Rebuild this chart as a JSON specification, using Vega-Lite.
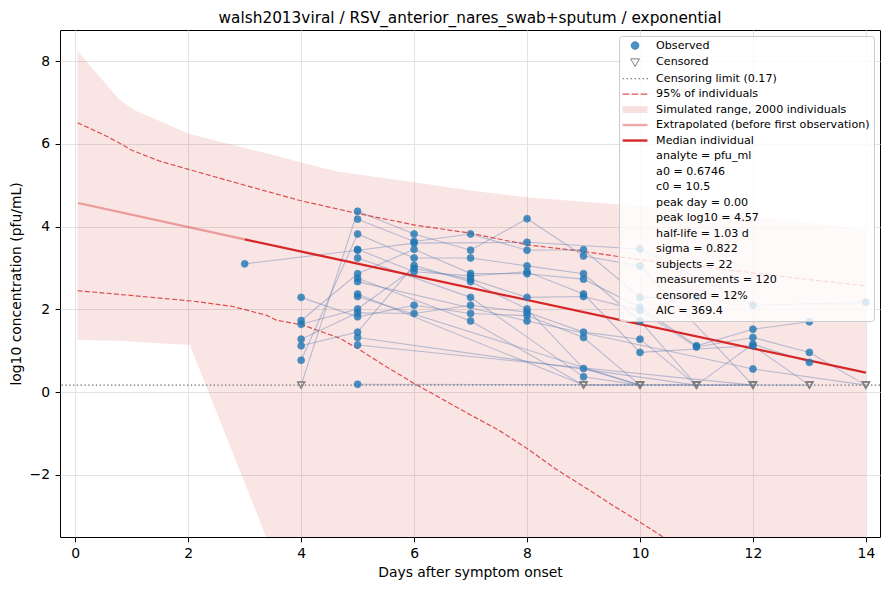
{
  "$schema": "https://vega.github.io/schema/vega-lite/v6.json",
  "width": 820,
  "height": 507,
  "autosize": {"type": "none"},
  "padding": {"left": 60, "top": 30, "right": 9, "bottom": 53},
  "title": {"text": "walsh2013viral / RSV_anterior_nares_swab+sputum / exponential", "fontSize": 15.3, "fontWeight": "normal", "font": "DejaVu Sans", "color": "black", "frame": "group", "offset": 4},
  "config": {
    "font": "DejaVu Sans",
    "view": {"stroke": "black", "strokeWidth": 1},
    "axis": {"domain": false, "tickColor": "black", "tickSize": 4.9, "tickWidth": 1, "labelFontSize": 13.9, "titleFontSize": 13.9, "titleFontWeight": "normal", "labelColor": "black", "titleColor": "black", "gridColor": "#e3e3e3", "gridWidth": 1, "labelFont": "DejaVu Sans", "titleFont": "DejaVu Sans"},
    "legend": {"labelFont": "DejaVu Sans"}
  },
  "datasets": {
    "obs": [
      {"s": "S1", "x": 3, "y": 3.10, "c": 0}, {"s": "S1", "x": 5, "y": 3.43, "c": 0}, {"s": "S1", "x": 6, "y": 3.60, "c": 0}, {"s": "S1", "x": 8, "y": 3.62, "c": 0}, {"s": "S1", "x": 10, "y": 3.46, "c": 0}, {"s": "S1", "x": 12, "y": 2.10, "c": 0}, {"s": "S1", "x": 14, "y": 2.17, "c": 0},
      {"s": "S2", "x": 4, "y": 0.17, "c": 1}, {"s": "S2", "x": 5, "y": 4.37, "c": 0}, {"s": "S2", "x": 6, "y": 3.82, "c": 0}, {"s": "S2", "x": 7, "y": 3.43, "c": 0}, {"s": "S2", "x": 8, "y": 4.19, "c": 0}, {"s": "S2", "x": 9, "y": 3.29, "c": 0}, {"s": "S2", "x": 10, "y": 3.05, "c": 0}, {"s": "S2", "x": 12, "y": 0.17, "c": 1},
      {"s": "S3", "x": 5, "y": 4.18, "c": 0}, {"s": "S3", "x": 6, "y": 3.64, "c": 0}, {"s": "S3", "x": 7, "y": 3.82, "c": 0}, {"s": "S3", "x": 8, "y": 3.43, "c": 0}, {"s": "S3", "x": 9, "y": 3.44, "c": 0}, {"s": "S3", "x": 10, "y": 2.29, "c": 0}, {"s": "S3", "x": 11, "y": 2.29, "c": 0},
      {"s": "S4", "x": 4, "y": 2.29, "c": 0}, {"s": "S4", "x": 5, "y": 1.82, "c": 0}, {"s": "S4", "x": 6, "y": 2.10, "c": 0}, {"s": "S4", "x": 7, "y": 1.90, "c": 0}, {"s": "S4", "x": 8, "y": 1.85, "c": 0}, {"s": "S4", "x": 9, "y": 1.32, "c": 0}, {"s": "S4", "x": 10, "y": 0.17, "c": 1},
      {"s": "S5", "x": 4, "y": 1.73, "c": 0}, {"s": "S5", "x": 5, "y": 2.86, "c": 0}, {"s": "S5", "x": 6, "y": 3.45, "c": 0}, {"s": "S5", "x": 7, "y": 2.87, "c": 0}, {"s": "S5", "x": 8, "y": 2.86, "c": 0}, {"s": "S5", "x": 9, "y": 2.73, "c": 0}, {"s": "S5", "x": 10, "y": 2.05, "c": 0}, {"s": "S5", "x": 11, "y": 1.12, "c": 0}, {"s": "S5", "x": 12, "y": 1.52, "c": 0}, {"s": "S5", "x": 13, "y": 1.70, "c": 0},
      {"s": "S6", "x": 4, "y": 1.64, "c": 0}, {"s": "S6", "x": 5, "y": 2.01, "c": 0}, {"s": "S6", "x": 6, "y": 2.99, "c": 0}, {"s": "S6", "x": 7, "y": 2.73, "c": 0}, {"s": "S6", "x": 8, "y": 2.29, "c": 0}, {"s": "S6", "x": 9, "y": 2.31, "c": 0}, {"s": "S6", "x": 10, "y": 1.97, "c": 0}, {"s": "S6", "x": 11, "y": 1.09, "c": 0}, {"s": "S6", "x": 12, "y": 1.32, "c": 0}, {"s": "S6", "x": 13, "y": 0.96, "c": 0}, {"s": "S6", "x": 14, "y": 0.17, "c": 1},
      {"s": "S7", "x": 4, "y": 1.28, "c": 0}, {"s": "S7", "x": 5, "y": 1.92, "c": 0}, {"s": "S7", "x": 6, "y": 1.90, "c": 0}, {"s": "S7", "x": 7, "y": 2.10, "c": 0}, {"s": "S7", "x": 8, "y": 1.93, "c": 0}, {"s": "S7", "x": 9, "y": 1.45, "c": 0}, {"s": "S7", "x": 10, "y": 1.28, "c": 0}, {"s": "S7", "x": 11, "y": 0.17, "c": 1},
      {"s": "S8", "x": 4, "y": 1.12, "c": 0}, {"s": "S8", "x": 5, "y": 1.45, "c": 0}, {"s": "S8", "x": 6, "y": 3.06, "c": 0}, {"s": "S8", "x": 7, "y": 2.67, "c": 0}, {"s": "S8", "x": 8, "y": 2.01, "c": 0}, {"s": "S8", "x": 9, "y": 0.57, "c": 0}, {"s": "S8", "x": 10, "y": 0.17, "c": 1},
      {"s": "S9", "x": 4, "y": 0.77, "c": 0}, {"s": "S9", "x": 5, "y": 3.82, "c": 0}, {"s": "S9", "x": 6, "y": 3.24, "c": 0}, {"s": "S9", "x": 7, "y": 3.24, "c": 0}, {"s": "S9", "x": 8, "y": 3.05, "c": 0}, {"s": "S9", "x": 9, "y": 2.86, "c": 0}, {"s": "S9", "x": 10, "y": 1.72, "c": 0}, {"s": "S9", "x": 11, "y": 0.17, "c": 1}, {"s": "S9", "x": 12, "y": 1.16, "c": 0}, {"s": "S9", "x": 13, "y": 0.72, "c": 0},
      {"s": "S10", "x": 5, "y": 3.45, "c": 0}, {"s": "S10", "x": 6, "y": 2.91, "c": 0}, {"s": "S10", "x": 7, "y": 2.81, "c": 0}, {"s": "S10", "x": 8, "y": 2.91, "c": 0}, {"s": "S10", "x": 9, "y": 2.37, "c": 0}, {"s": "S10", "x": 10, "y": 0.96, "c": 0}, {"s": "S10", "x": 12, "y": 1.12, "c": 0}, {"s": "S10", "x": 13, "y": 0.17, "c": 1},
      {"s": "S11", "x": 5, "y": 3.24, "c": 0}, {"s": "S11", "x": 7, "y": 2.29, "c": 0}, {"s": "S11", "x": 9, "y": 0.37, "c": 0}, {"s": "S11", "x": 10, "y": 0.17, "c": 1},
      {"s": "S12", "x": 5, "y": 2.75, "c": 0}, {"s": "S12", "x": 7, "y": 1.72, "c": 0}, {"s": "S12", "x": 9, "y": 0.17, "c": 1}, {"s": "S12", "x": 11, "y": 0.17, "c": 1},
      {"s": "S13", "x": 5, "y": 2.67, "c": 0}, {"s": "S13", "x": 8, "y": 1.72, "c": 0}, {"s": "S13", "x": 12, "y": 0.56, "c": 0}, {"s": "S13", "x": 14, "y": 0.17, "c": 1},
      {"s": "S14", "x": 5, "y": 2.37, "c": 0}, {"s": "S14", "x": 9, "y": 0.17, "c": 1},
      {"s": "S15", "x": 5, "y": 2.31, "c": 0}, {"s": "S15", "x": 10, "y": 0.17, "c": 1},
      {"s": "S16", "x": 5, "y": 1.32, "c": 0}, {"s": "S16", "x": 11, "y": 0.17, "c": 1}, {"s": "S16", "x": 12, "y": 0.17, "c": 1},
      {"s": "S17", "x": 5, "y": 1.14, "c": 0}, {"s": "S17", "x": 12, "y": 0.17, "c": 1},
      {"s": "S18", "x": 5, "y": 0.19, "c": 0}, {"s": "S18", "x": 13, "y": 0.17, "c": 1}
    ],
    "band": [
      {"x": 0.04, "y": 8.24, "lo": 1.26}, {"x": 0.78, "y": 7.07, "lo": 1.24}, {"x": 1.05, "y": 6.81, "lo": 1.22}, {"x": 2.03, "y": 6.24, "lo": 1.14},
      {"x": 3.38, "y": 5.77, "lo": -3.5}, {"x": 3.6, "y": 5.7, "lo": -4.3}, {"x": 4.0, "y": 5.55, "lo": -5.0}, {"x": 4.63, "y": 5.33, "lo": -5.0},
      {"x": 5.04, "y": 5.25, "lo": -5.0}, {"x": 6, "y": 5.07, "lo": -5.0}, {"x": 7, "y": 4.87, "lo": -5.0}, {"x": 8, "y": 4.71, "lo": -5.0},
      {"x": 9, "y": 4.6, "lo": -5.0}, {"x": 10, "y": 4.5, "lo": -5.0}, {"x": 11, "y": 4.38, "lo": -5.0}, {"x": 12, "y": 4.25, "lo": -5.0},
      {"x": 13, "y": 4.1, "lo": -5.0}, {"x": 14, "y": 3.92, "lo": -5.0}
    ],
    "pi": [
      {"b": "hi", "x": 0.04, "y": 6.51}, {"b": "hi", "x": 0.5, "y": 6.22}, {"b": "hi", "x": 0.78, "y": 6.02}, {"b": "hi", "x": 1.01, "y": 5.84}, {"b": "hi", "x": 1.5, "y": 5.58}, {"b": "hi", "x": 2.14, "y": 5.33}, {"b": "hi", "x": 3, "y": 5.0}, {"b": "hi", "x": 3.98, "y": 4.63}, {"b": "hi", "x": 4.92, "y": 4.34}, {"b": "hi", "x": 6, "y": 4.04}, {"b": "hi", "x": 7, "y": 3.84}, {"b": "hi", "x": 8, "y": 3.56}, {"b": "hi", "x": 9, "y": 3.4}, {"b": "hi", "x": 10, "y": 3.2}, {"b": "hi", "x": 11, "y": 3.05}, {"b": "hi", "x": 12, "y": 2.88}, {"b": "hi", "x": 13, "y": 2.72}, {"b": "hi", "x": 14, "y": 2.57},
      {"b": "lo", "x": 0.04, "y": 2.45}, {"b": "lo", "x": 0.8, "y": 2.36}, {"b": "lo", "x": 1.67, "y": 2.25}, {"b": "lo", "x": 2.08, "y": 2.2}, {"b": "lo", "x": 2.79, "y": 2.07}, {"b": "lo", "x": 3.38, "y": 1.86}, {"b": "lo", "x": 3.56, "y": 1.74}, {"b": "lo", "x": 4.03, "y": 1.62}, {"b": "lo", "x": 4.69, "y": 1.3}, {"b": "lo", "x": 5.04, "y": 1.02}, {"b": "lo", "x": 5.5, "y": 0.62}, {"b": "lo", "x": 6.0, "y": 0.21}, {"b": "lo", "x": 6.5, "y": -0.17}, {"b": "lo", "x": 7.0, "y": -0.55}, {"b": "lo", "x": 7.5, "y": -0.92}, {"b": "lo", "x": 8.0, "y": -1.36}, {"b": "lo", "x": 8.5, "y": -1.85}, {"b": "lo", "x": 9.0, "y": -2.28}, {"b": "lo", "x": 9.5, "y": -2.72}, {"b": "lo", "x": 10.0, "y": -3.14}, {"b": "lo", "x": 10.5, "y": -3.58}, {"b": "lo", "x": 11.0, "y": -4.0}
    ],
    "med": [
      {"part": "extrap", "x": 0.05, "y": 4.57}, {"part": "extrap", "x": 3.0, "y": 3.69},
      {"part": "median", "x": 3.0, "y": 3.69}, {"part": "median", "x": 14.0, "y": 0.47}
    ],
    "leg": [{"k": "Observed"}]
  },
  "layer": [
    {
      "data": {"name": "band"},
      "mark": {"type": "area", "color": "#d62728", "opacity": 0.12, "clip": true},
      "encoding": {
        "x": {"field": "x", "type": "quantitative", "scale": {"domain": [-0.27, 14.25], "nice": false, "zero": false}, "axis": {"values": [0, 2, 4, 6, 8, 10, 12, 14], "format": "d", "title": "Days after symptom onset", "labelBaseline": "alphabetic", "labelPadding": 15.5, "titleBaseline": "alphabetic", "titleY": 39.5}},
        "y": {"field": "y", "type": "quantitative", "scale": {"domain": [-3.5, 8.75], "nice": false, "zero": false}, "axis": {"values": [-2, 0, 2, 4, 6, 8], "format": "d", "title": "log10 concentration (pfu/mL)", "labelPadding": 5.5, "titleBaseline": "alphabetic", "titleX": -39.8}},
        "y2": {"field": "lo"}
      }
    },
    {
      "data": {"name": "pi"},
      "mark": {"type": "line", "color": "#d62728", "opacity": 0.8, "strokeWidth": 1.2, "strokeDash": [5, 2.3], "clip": true},
      "encoding": {
        "x": {"field": "x", "type": "quantitative", "scale": {"domain": [-0.27, 14.25], "nice": false, "zero": false}},
        "y": {"field": "y", "type": "quantitative", "scale": {"domain": [-3.5, 8.75], "nice": false, "zero": false}},
        "detail": {"field": "b"}
      }
    },
    {
      "data": {"values": [{"y": 0.17}]},
      "mark": {"type": "rule", "color": "#707070", "strokeWidth": 1.4, "strokeDash": [1.4, 2.4]},
      "encoding": {
        "y": {"field": "y", "type": "quantitative", "scale": {"domain": [-3.5, 8.75], "nice": false, "zero": false}}
      }
    },
    {
      "data": {"name": "obs"},
      "mark": {"type": "line", "color": "#5b7fb0", "opacity": 0.42, "strokeWidth": 1.1},
      "encoding": {
        "x": {"field": "x", "type": "quantitative", "scale": {"domain": [-0.27, 14.25], "nice": false, "zero": false}},
        "y": {"field": "y", "type": "quantitative", "scale": {"domain": [-3.5, 8.75], "nice": false, "zero": false}},
        "detail": {"field": "s"},
        "order": {"field": "x", "type": "quantitative"}
      }
    },
    {
      "data": {"name": "med"},
      "transform": [{"filter": "datum.part == 'extrap'"}],
      "mark": {"type": "line", "color": "#d62728", "opacity": 0.4, "strokeWidth": 2.3},
      "encoding": {
        "x": {"field": "x", "type": "quantitative", "scale": {"domain": [-0.27, 14.25], "nice": false, "zero": false}},
        "y": {"field": "y", "type": "quantitative", "scale": {"domain": [-3.5, 8.75], "nice": false, "zero": false}}
      }
    },
    {
      "data": {"name": "med"},
      "transform": [{"filter": "datum.part == 'median'"}],
      "mark": {"type": "line", "color": "#d62728", "opacity": 1, "strokeWidth": 2.3},
      "encoding": {
        "x": {"field": "x", "type": "quantitative", "scale": {"domain": [-0.27, 14.25], "nice": false, "zero": false}},
        "y": {"field": "y", "type": "quantitative", "scale": {"domain": [-3.5, 8.75], "nice": false, "zero": false}}
      }
    },
    {
      "data": {"name": "obs"},
      "transform": [{"filter": "datum.c == 0"}],
      "mark": {"type": "point", "shape": "circle", "filled": true, "color": "#1f77b4", "opacity": 0.8, "size": 48, "strokeWidth": 0.8, "stroke": "#1f77b4"},
      "encoding": {
        "x": {"field": "x", "type": "quantitative", "scale": {"domain": [-0.27, 14.25], "nice": false, "zero": false}},
        "y": {"field": "y", "type": "quantitative", "scale": {"domain": [-3.5, 8.75], "nice": false, "zero": false}}
      }
    },
    {
      "data": {"name": "obs"},
      "transform": [{"filter": "datum.c == 1"}],
      "mark": {"type": "point", "shape": "triangle-down", "filled": false, "color": "#7f7f7f", "opacity": 1, "size": 50, "strokeWidth": 1.4},
      "encoding": {
        "x": {"field": "x", "type": "quantitative", "scale": {"domain": [-0.27, 14.25], "nice": false, "zero": false}},
        "y": {"field": "y", "type": "quantitative", "scale": {"domain": [-3.5, 8.75], "nice": false, "zero": false}}
      }
    },
    {
      "data": {"name": "leg"},
      "transform": [{"filter": "datum.k == 'none'"}],
      "mark": {"type": "point", "filled": true, "opacity": 1},
      "encoding": {
        "fill": {
          "field": "k", "type": "nominal",
          "scale": {
            "domain": ["Observed", "Censored", "Censoring limit (0.17)", "95% of individuals", "Simulated range, 2000 individuals", "Extrapolated (before first observation)", "Median individual", "analyte = pfu_ml", "a0 = 0.6746", "c0 = 10.5", "peak day = 0.00", "peak log10 = 4.57", "half-life = 1.03 d", "sigma = 0.822", "subjects = 22", "measurements = 120", "censored = 12%", "AIC = 369.4"],
            "range": ["rgba(31,119,180,0.8)", "transparent", "#808080", "rgba(214,39,40,0.8)", "rgba(214,39,40,0.15)", "rgba(214,39,40,0.4)", "#d62728", "transparent", "transparent", "transparent", "transparent", "transparent", "transparent", "transparent", "transparent", "transparent", "transparent", "transparent"]
          },
          "legend": {
            "title": null, "orient": "top-right", "offset": 6,
            "fillColor": "rgba(255,255,255,0.8)", "strokeColor": "#cccccc", "cornerRadius": 3, "padding": 4,
            "labelFontSize": 11.1, "labelColor": "black", "labelLimit": 400,
            "symbolSize": 64, "symbolStrokeWidth": 1, "symbolOffset": 6.5, "labelOffset": 15.5, "rowPadding": 3.5, "symbolLimit": 40
          }
        },
        "stroke": {
          "field": "k", "type": "nominal",
          "scale": {
            "domain": ["Observed", "Censored", "Censoring limit (0.17)", "95% of individuals", "Simulated range, 2000 individuals", "Extrapolated (before first observation)", "Median individual", "analyte = pfu_ml", "a0 = 0.6746", "c0 = 10.5", "peak day = 0.00", "peak log10 = 4.57", "half-life = 1.03 d", "sigma = 0.822", "subjects = 22", "measurements = 120", "censored = 12%", "AIC = 369.4"],
            "range": ["rgba(31,119,180,0.8)", "#7f7f7f", "transparent", "transparent", "transparent", "transparent", "transparent", "transparent", "transparent", "transparent", "transparent", "transparent", "transparent", "transparent", "transparent", "transparent", "transparent", "transparent"]
          }
        },
        "shape": {
          "field": "k", "type": "nominal",
          "scale": {
            "domain": ["Observed", "Censored", "Censoring limit (0.17)", "95% of individuals", "Simulated range, 2000 individuals", "Extrapolated (before first observation)", "Median individual", "analyte = pfu_ml", "a0 = 0.6746", "c0 = 10.5", "peak day = 0.00", "peak log10 = 4.57", "half-life = 1.03 d", "sigma = 0.822", "subjects = 22", "measurements = 120", "censored = 12%", "AIC = 369.4"],
            "range": [
              "M-0.95,0A0.95,0.95,0,1,0,0.95,0A0.95,0.95,0,1,0,-0.95,0Z",
              "M-1.1,-0.8L1.1,-0.8L0,1.1Z",
              "M-3.1,-0.15h0.35v0.3h-0.35ZM-2.1,-0.15h0.35v0.3h-0.35ZM-1.1,-0.15h0.35v0.3h-0.35ZM-0.1,-0.15h0.35v0.3h-0.35ZM0.9,-0.15h0.35v0.3h-0.35ZM1.9,-0.15h0.35v0.3h-0.35ZM2.9,-0.15h0.35v0.3h-0.35Z",
              "M-3.1,-0.15h1.65v0.3h-1.65ZM-0.85,-0.15h1.65v0.3h-1.65ZM1.4,-0.15h1.65v0.3h-1.65Z",
              "M-3.1,-0.85h6.2v1.7h-6.2Z",
              "M-3.1,-0.3h6.2v0.6h-6.2Z",
              "M-3.1,-0.3h6.2v0.6h-6.2Z",
              "M0,0h0.01v0.01h-0.01Z", "M0,0h0.01v0.01h-0.01Z", "M0,0h0.01v0.01h-0.01Z", "M0,0h0.01v0.01h-0.01Z", "M0,0h0.01v0.01h-0.01Z", "M0,0h0.01v0.01h-0.01Z", "M0,0h0.01v0.01h-0.01Z", "M0,0h0.01v0.01h-0.01Z", "M0,0h0.01v0.01h-0.01Z", "M0,0h0.01v0.01h-0.01Z", "M0,0h0.01v0.01h-0.01Z"
            ]
          }
        }
      }
    }
  ]
}
